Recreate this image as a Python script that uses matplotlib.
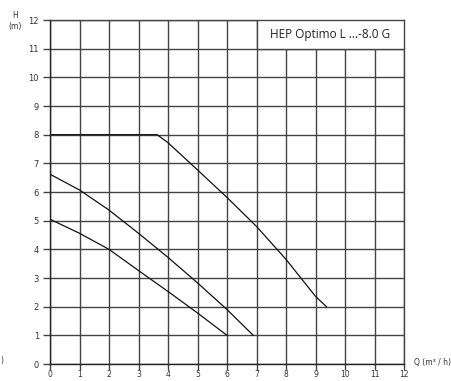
import matplotlib.pyplot as plt
import matplotlib.ticker as ticker
from matplotlib.patches import Rectangle

# kurven ablesen aus dem Diagramm
q_max = [0, 3.63, 4, 5, 6, 7, 8, 9, 9.37]
h_max = [8, 8, 7.72, 6.77, 5.81, 4.8, 3.65, 2.36, 2.0]

q_mid = [0, 1, 2, 3, 4, 5, 6, 6.89]
h_mid = [6.62, 6.07, 5.37, 4.56, 3.72, 2.83, 1.9, 1.0]

q_min = [0, 1, 2, 3, 4, 5, 6.0]
h_min = [5.05, 4.56, 4.0, 3.26, 2.53, 1.78, 1.0]

title = 'HEP Optimo L ...-8.0 G'

fig = plt.figure(figsize=(4.51, 3.81), dpi=100)
ax = fig.add_axes([50/451, 17/381, 354/451, 344/381])

ax.set_xlim(0, 12)
ax.set_ylim(0, 12)
ax.xaxis.set_major_locator(ticker.MultipleLocator(1))
ax.yaxis.set_major_locator(ticker.MultipleLocator(1))

ax.grid(True, which='major', color='#444444', linewidth=1.0)
ax.set_axisbelow(True)
for s in ax.spines.values():
    s.set_color('#444444')
    s.set_linewidth(1.0)
ax.spines['left'].set_color('#222222')
ax.spines['bottom'].set_color('#222222')

ax.tick_params(direction='out', length=5, width=1.0, color='#444444',
               labelsize=6, labelcolor='#333333')
ax.tick_params(axis='y', pad=3)
ax.tick_params(axis='x', length=4, pad=0.5, labelsize=5.5)

ax.plot(q_max, h_max, color='#111111', linewidth=0.9)
ax.plot(q_mid, h_mid, color='#111111', linewidth=0.9)
ax.plot(q_min, h_min, color='#111111', linewidth=0.9)

# kasten mit typenbezeichnung
ax.add_patch(Rectangle((7, 11), 5, 1, facecolor='white', edgecolor='#444444',
                       linewidth=1.0, zorder=3))
ax.text(9.5, 11.5, title, ha='center', va='center', fontsize=8.5,
        family=['Open Sans', 'DejaVu Sans'], color='#222222', zorder=4)

fig.text(15/451, 1 - 21/381, 'H\n(m)', ha='center', va='center', fontsize=5.5,
         color='#333333', linespacing=1.2)
fig.text(432/451, 1 - 363/381, 'Q (m³ / h)', ha='center', va='center',
         fontsize=5.5, color='#333333')
fig.text(0, 1 - 361/381, ')', ha='left', va='center', fontsize=5.5,
         color='#333333')

fig.savefig('out.png', dpi=100)
